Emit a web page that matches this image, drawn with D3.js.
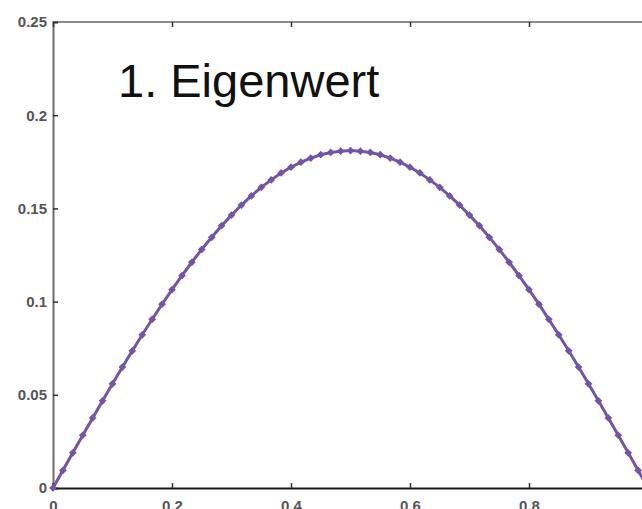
<!DOCTYPE html>
<html>
<head>
<meta charset="utf-8">
<script src="https://cdn.jsdelivr.net/npm/d3@7"></script>
<style>
  html, body { margin: 0; padding: 0; background: #fff; }
  svg { display: block; }
</style>
</head>
<body>
<svg id="chart" width="642" height="509"></svg>
<script>
// ---- data ----
const xValues = [
  0, 0.0167, 0.0333, 0.05, 0.0667, 0.0833, 0.1, 0.1167, 0.1333, 0.15,
  0.1667, 0.1833, 0.2, 0.2167, 0.2333, 0.25, 0.2667, 0.2833, 0.3, 0.3167,
  0.3333, 0.35, 0.3667, 0.3833, 0.4, 0.4167, 0.4333, 0.45, 0.4667, 0.4833,
  0.5, 0.5167, 0.5333, 0.55, 0.5667, 0.5833, 0.6, 0.6167, 0.6333, 0.65,
  0.6667, 0.6833, 0.7, 0.7167, 0.7333, 0.75, 0.7667, 0.7833, 0.8, 0.8167,
  0.8333, 0.85, 0.8667, 0.8833, 0.9, 0.9167, 0.9333, 0.95, 0.9667, 0.9833, 1
];
const yValues = [
  0, 0.0095, 0.0189, 0.0283, 0.0376, 0.0468, 0.0559, 0.0649, 0.0736, 0.0822,
  0.0905, 0.0986, 0.1064, 0.1139, 0.1211, 0.1280, 0.1345, 0.1407, 0.1464, 0.1518,
  0.1567, 0.1613, 0.1653, 0.1690, 0.1721, 0.1748, 0.1770, 0.1788, 0.1800, 0.1807,
  0.1810, 0.1807, 0.1800, 0.1788, 0.1770, 0.1748, 0.1721, 0.1690, 0.1653, 0.1613,
  0.1567, 0.1518, 0.1464, 0.1407, 0.1345, 0.1280, 0.1211, 0.1139, 0.1064, 0.0986,
  0.0905, 0.0822, 0.0736, 0.0649, 0.0559, 0.0468, 0.0376, 0.0283, 0.0189, 0.0095, 0
];
const xTicks = [0, 0.2, 0.4, 0.6, 0.8, 1];
const xTickLabels = ["0", "0.2", "0.4", "0.6", "0.8", "1"];
const yTicks = [0, 0.05, 0.1, 0.15, 0.2, 0.25];
const yTickLabels = ["0", "0.05", "0.1", "0.15", "0.2", "0.25"];
const titleText = "1. Eigenwert";

(function () {
// ---- layout ----
const svg = d3.select("#chart");
const mLeft = 53, mRight = 648, mTop = 22, mBottom = 488;
const x = d3.scaleLinear().domain([0, 1]).range([mLeft, mRight]);
const y = d3.scaleLinear().domain([0, 0.25]).range([mBottom, mTop]);
const purple = "#7454a6";
const tickLen = 5;

// box lines
svg.append("line").attr("x1", mLeft).attr("x2", mRight).attr("y1", mTop).attr("y2", mTop)
  .attr("stroke", "#8a8a8a").attr("stroke-width", 2);
svg.append("line").attr("x1", mRight).attr("x2", mRight).attr("y1", mTop).attr("y2", mBottom)
  .attr("stroke", "#8a8a8a").attr("stroke-width", 2);

// axes
const fontFam = "'Liberation Sans', Arial, Helvetica, sans-serif";
const yAxisL = d3.axisLeft(y).tickValues(yTicks).tickSize(-tickLen)
  .tickPadding(6).tickFormat((d, i) => yTickLabels[i]);
const gL = svg.append("g").attr("transform", `translate(${mLeft},0)`).call(yAxisL);
gL.select(".domain").attr("stroke", "#6e6e6e").attr("stroke-width", 2);

const yAxisR = d3.axisRight(y).tickValues(yTicks).tickSize(-tickLen).tickFormat("");
const gR = svg.append("g").attr("transform", `translate(${mRight},0)`).call(yAxisR);
gR.select(".domain").remove();

const xAxisT = d3.axisTop(x).tickValues(xTicks).tickSize(-tickLen).tickFormat("");
const gT = svg.append("g").attr("transform", `translate(0,${mTop})`).call(xAxisT);
gT.select(".domain").remove();

const xAxisB = d3.axisBottom(x).tickValues(xTicks).tickSize(-tickLen)
  .tickPadding(12).tickFormat((d, i) => xTickLabels[i]);
const gB = svg.append("g").attr("transform", `translate(0,${mBottom})`).call(xAxisB);
gB.select(".domain").attr("stroke", "#1a1a1a").attr("stroke-width", 2);

[gL, gR, gT, gB].forEach(g => {
  g.selectAll(".tick line").attr("stroke", "#333").attr("stroke-width", 1.5);
  g.selectAll("text").attr("font-family", fontFam).attr("font-size", 15)
    .attr("font-weight", "bold").attr("fill", "#555");
});

// title
svg.append("text").attr("x", 118).attr("y", 97)
  .attr("font-family", fontFam).attr("font-size", 47).attr("fill", "#111")
  .text(titleText);

// series
const pts = xValues.map((d, i) => [d, yValues[i]]);
const line = d3.line().x(d => x(d[0])).y(d => y(d[1]));
svg.append("path").datum(pts).attr("d", line)
  .attr("fill", "none").attr("stroke", purple).attr("stroke-width", 3);

const sym = d3.symbol().type(d3.symbolSquare).size(30);
svg.append("g").selectAll("path").data(pts).join("path")
  .attr("transform", d => `translate(${x(d[0])},${y(d[1])}) rotate(45)`)
  .attr("d", sym).attr("fill", purple);
})();
</script>
</body>
</html>
